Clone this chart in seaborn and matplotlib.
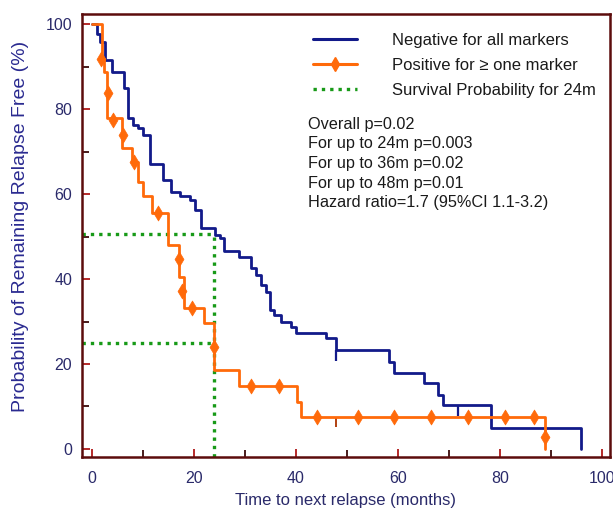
import matplotlib
matplotlib.use("Agg")
import matplotlib.pyplot as plt
from matplotlib.lines import Line2D
from matplotlib.ticker import MultipleLocator
import numpy as np
import pandas as pd
import seaborn as sns

# ---------------- data ----------------
neg_t = [0, 1.0, 1.5, 2.6, 3.9, 6.2, 7.1, 8.1, 9.1, 10.1, 11.4, 14.0, 15.4, 17.3, 19.3,
         20.3, 21.4, 24.2, 25.2, 25.9, 28.8, 31.1, 32.1, 33.1, 34.1, 35.0, 35.7, 37.0,
         39.0, 40.0, 45.9, 47.8, 58.3, 59.3, 65.2, 67.8, 68.8, 78.3, 96.0]
neg_s = [100, 97.8, 95.8, 91.5, 88.8, 84.9, 77.8, 76.2, 75.5, 73.9, 67.2, 63.3, 60.5, 59.6, 58.6,
         56.2, 51.9, 50.4, 49.6, 46.6, 45.3, 42.5, 40.9, 38.6, 37.0, 32.7, 31.5, 30.0,
         28.8, 27.4, 26.0, 23.3, 20.5, 17.9, 15.5, 12.7, 10.4, 4.9, 0]

pos_t = [0, 1.9, 2.4, 2.9, 5.8, 7.8, 9.1, 10.1, 11.7, 15.0, 17.0, 18.0, 21.9, 23.9,
         28.8, 40.3, 40.9, 88.8]
pos_s = [100, 91.9, 88.8, 77.8, 70.9, 67.6, 62.9, 59.5, 55.5, 48.0, 40.5, 33.1, 29.6, 18.6,
         14.7, 11.0, 7.5, 0]

pos_mark_t = [1.7, 3.2, 4.2, 6.0, 8.3, 13.0, 17.0, 17.7, 19.7, 24.0, 31.1, 36.7,
              44.2, 52.1, 59.3, 66.5, 73.8, 81.0, 86.6, 88.8]
pos_mark_s = [91.9, 83.7, 77.5, 73.9, 67.6, 55.5, 44.6, 37.2, 33.1, 24.1, 14.7, 14.7,
              7.5, 7.5, 7.5, 7.5, 7.5, 7.5, 7.5, 2.9]

neg_cens_t = [47.8, 71.8]
neg_cens_s = [23.3, 10.4]
pos_cens_t = [47.8]
pos_cens_s = [7.5]

ref_time = 24.0
ref_probs = [50.5, 25.0]

legend_labels = ["Negative for all markers", "Positive for \u2265 one marker",
                 "Survival Probability for 24m"]
stats_lines = ["Overall p=0.02", "For up to 24m p=0.003", "For up to 36m p=0.02",
               "For up to 48m p=0.01", "Hazard ratio=1.7 (95%CI 1.1-3.2)"]
x_ticks = [0, 20, 40, 60, 80, 100]
y_ticks = [0, 20, 40, 60, 80, 100]

# ---------------- style ----------------
sns.set_theme(style="white")
plt.rcParams["font.family"] = ["Liberation Sans", "DejaVu Sans"]

BLUE = "#121a8a"
ORANGE = "#ff6a0a"
GREEN = "#189a18"
SPINE = "#5c0c0c"
TXT = "#2a2a6a"

W, H = 613, 512
fig = plt.figure(figsize=(W / 100, H / 100), dpi=100)
ax = fig.add_axes([82 / W, 1 - 457 / H, (610 - 82) / W, (457 - 14) / H])

df_neg = pd.DataFrame({"t": neg_t, "s": neg_s})
df_pos = pd.DataFrame({"t": pos_t, "s": pos_s})
df_pm = pd.DataFrame({"t": pos_mark_t, "s": pos_mark_s})

xmin, xmax = -1.96, 101.6
ymin, ymax = -1.9, 102.4

# reference dotted lines
ax.hlines(ref_probs, xmin, ref_time, colors=GREEN, linestyles=(0, (1, 1.5)), lw=2.4, zorder=1)
ax.vlines([ref_time], ymin, max(ref_probs), colors=GREEN, linestyles=(0, (1, 1.5)), lw=2.4, zorder=1)

sns.lineplot(data=df_neg, x="t", y="s", drawstyle="steps-post", color=BLUE, lw=2.0,
             estimator=None, ax=ax, zorder=3)
sns.lineplot(data=df_pos, x="t", y="s", drawstyle="steps-post", color=ORANGE, lw=2.0,
             estimator=None, ax=ax, zorder=4)
sns.scatterplot(data=df_pm, x="t", y="s", marker="d", s=58, color=ORANGE, edgecolor=ORANGE,
                linewidth=0.5, ax=ax, zorder=5)
ax.plot(neg_cens_t, neg_cens_s, ls="", marker=3, markersize=8, mew=1.6, color=BLUE, zorder=3)
ax.plot(pos_cens_t, pos_cens_s, ls="", marker=3, markersize=7, mew=1.4, color="#b04010", zorder=3)

ax.set_xlim(xmin, xmax)
ax.set_ylim(ymin, ymax)
ax.set_xticks(x_ticks)
ax.set_yticks(y_ticks)
ax.xaxis.set_minor_locator(MultipleLocator(10))
ax.yaxis.set_minor_locator(MultipleLocator(10))

for sp in ax.spines.values():
    sp.set_color(SPINE)
    sp.set_linewidth(1.8)

ax.tick_params(which="major", direction="in", length=5.5, width=1.3, color="#b01818",
               labelsize=11.5, labelcolor=TXT, bottom=True, left=True)
ax.tick_params(axis="x", which="major", pad=10)
ax.tick_params(axis="y", which="major", pad=7)
ax.tick_params(which="minor", direction="in", length=5, width=1.3, color="#3a0a0a",
               bottom=True, left=True)

ax.set_xlabel("Time to next relapse (months)", fontsize=12, color=TXT, va="center")
ax.xaxis.set_label_coords(345 / W, 1 - 501 / H, transform=fig.transFigure)
ax.set_ylabel("Probability of Remaining Relapse Free (%)", fontsize=14, color="#2a2a90",
              va="center")
ax.yaxis.set_label_coords(21 / W, 1 - 226 / H, transform=fig.transFigure)

handles = [Line2D([], [], color=BLUE, lw=2.2),
           Line2D([], [], color=ORANGE, lw=2.2, marker="d", markersize=7),
           Line2D([], [], color=GREEN, lw=2.4, ls=(0, (1, 1.5)))]
leg = ax.legend(handles, legend_labels, loc="upper left",
                bbox_to_anchor=(313 / W, 1 - 33 / H), bbox_transform=fig.transFigure,
                frameon=False, fontsize=12, handlelength=2.64, handletextpad=2.1,
                labelspacing=0.6, borderpad=0, borderaxespad=0)
for t in leg.get_texts():
    t.set_color("#1a1a1a")

for i, line in enumerate(stats_lines):
    fig.text(308 / W, 1 - (124 + 19.7 * i) / H, line, fontsize=11.7, color="#1a1a1a",
             ha="left", va="center")

fig.savefig("out.png", dpi=100)
